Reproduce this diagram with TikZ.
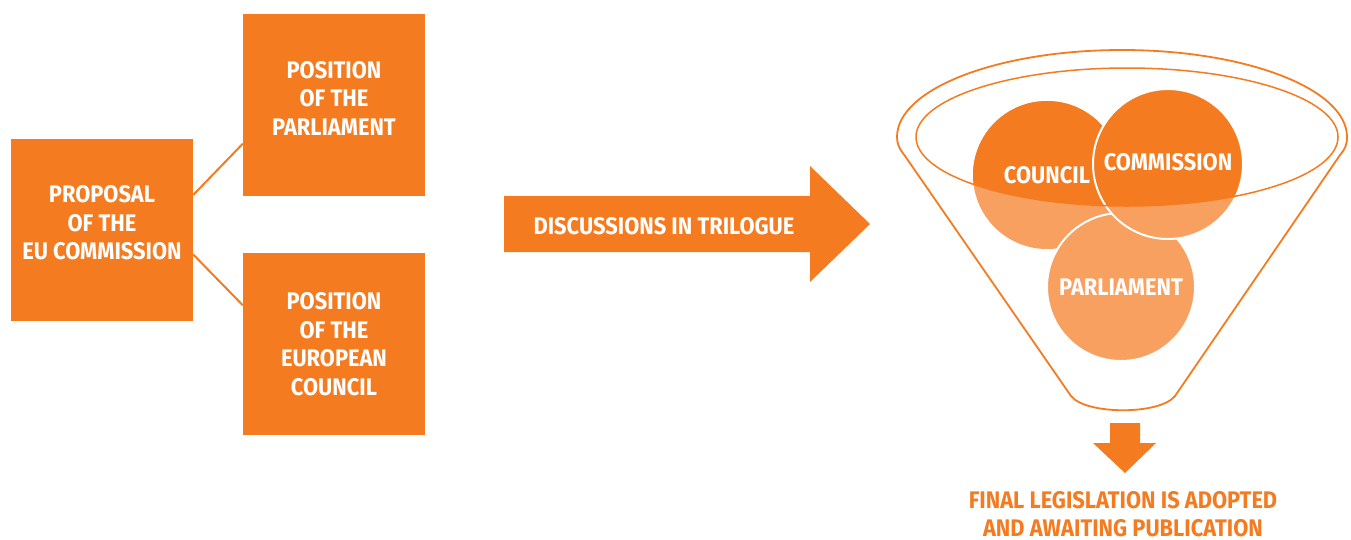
\documentclass[tikz,border=0pt]{standalone}
\usepackage{fontspec}
\setmainfont{Fira Sans}[FakeStretch = 0.91]
\usetikzlibrary{backgrounds}
\definecolor{euorange}{RGB}{244, 123, 32}
\definecolor{lorange}{RGB}{247, 160, 96}

\begin{document}
\begin{tikzpicture}[x = 1pt, y = -1pt,
		box/.style = {rectangle, fill = euorange, minimum width = 182pt, minimum height = 182pt, inner sep = 0pt},
		boxtext/.style = {text = white, font = \bfseries\fontsize{24}{28.5}\selectfont, align = center},
		disc/.style = {circle, fill = lorange, minimum size = 148pt, inner sep = 0pt, line width = 2pt},
		funnel/.style = {draw = euorange, line width = 1.8pt}]
			\useasboundingbox (0,0) rectangle (1351,539);
			\node (prop) at (102,230) [box] {};
			\node (pparl) at (334,105) [box] {};
			\node (pcoun) at (334,344) [box] {};
			\begin{scope}[on background layer]
				\draw [euorange, line width = 2pt] (prop.21.6) -- (pparl.203);
				\draw [euorange, line width = 2pt] (prop.-15.4) -- (pcoun.157);
			\end{scope}
			\node at (prop.center) [boxtext, yshift = 7pt] {PROPOSAL\\OF THE\\EU COMMISSION};
			\node at (pparl.center) [boxtext, yshift = 7pt] {POSITION\\OF THE\\PARLIAMENT};
			\node at (pcoun.center) [boxtext] {POSITION\\OF THE\\EUROPEAN\\COUNCIL};

			\fill [euorange] (504,196) -- (810,196) -- (810,166) -- (870,224) -- (810,282) -- (810,252) -- (504,252) -- cycle;
			\node (trilogue) at (664,226) [boxtext] {DISCUSSIONS IN TRILOGUE};

			\draw [funnel] (897,137) arc [start angle = 180, end angle = 0, x radius = 225pt, y radius = 87pt]
				.. controls (1347,145) and (1345,149) .. (1340,155) -- (1175,396)
				.. controls (1160,415) and (1086,415) .. (1071,396) -- (905,156)
				.. controls (899,148) and (897,144) .. cycle;
			\node (council) at (1047,175) [disc] {};
			\node (parliament) at (1121,287) [disc, draw = white] {};
			\node (commission) at (1168,164) [disc, draw = white, minimum size = 150pt] {};
			\begin{scope}
				\clip (1127,137) ellipse [x radius = 211pt, y radius = 69pt];
				\fill [euorange] (council) circle [radius = 74pt];
				\draw [fill = euorange, draw = white, line width = 2pt] (commission) circle [radius = 75pt];
			\end{scope}
			\draw [funnel, line width = 1.5pt] (1127,137) ellipse [x radius = 211pt, y radius = 69pt];
			\node at (council) [boxtext] {COUNCIL};
			\node at (commission) [boxtext, yshift = 2pt] {COMMISSION};
			\node at (parliament) [boxtext] {PARLIAMENT};

			\fill [euorange] (1110,423) -- (1140,423) -- (1140,443) -- (1156,443) -- (1125,473) -- (1093,443) -- (1110,443) -- cycle;
			\node (final) at (1123,514) [boxtext, text = euorange] {FINAL LEGISLATION IS ADOPTED\\AND AWAITING PUBLICATION};
			\end{tikzpicture}
\end{document}
